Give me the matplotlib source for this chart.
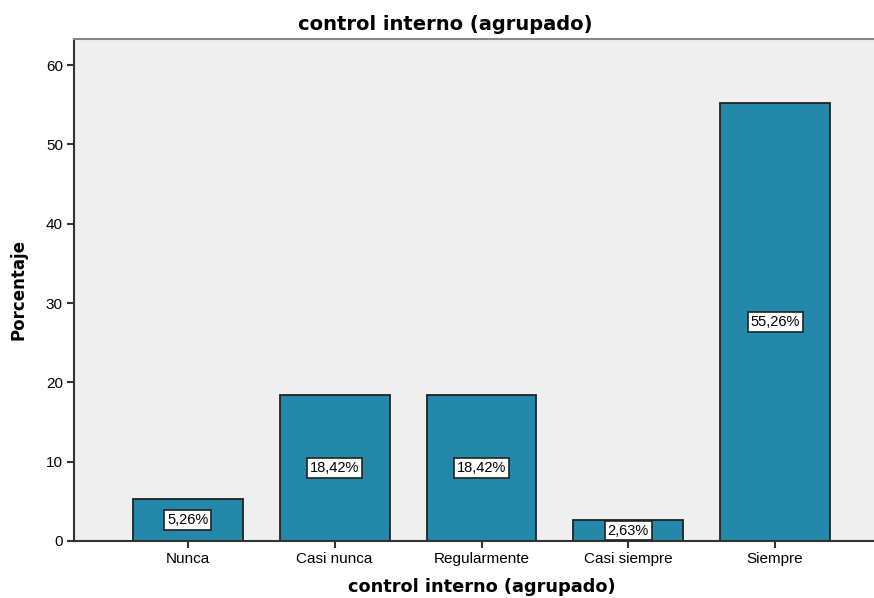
import matplotlib
matplotlib.use("Agg")
import matplotlib.pyplot as plt
import numpy as np

categories = ["Nunca", "Casi nunca", "Regularmente", "Casi siempre", "Siempre"]
values = [5.26, 18.42, 18.42, 2.63, 55.26]
labels = ["5,26%", "18,42%", "18,42%", "2,63%", "55,26%"]
yticks = [0, 10, 20, 30, 40, 50, 60]

fig = plt.figure(figsize=(8.74, 5.98), dpi=100)
W, H = 874, 598
ax = fig.add_axes([74 / W, (H - 541) / H, 815 / W, 502 / H])
ax.set_facecolor("#efefef")

x = np.arange(len(categories))
ax.bar(x, values, width=0.748, color="#2388AA", edgecolor="#222222", linewidth=1.3, zorder=2)
for xi, v, lab in zip(x, values, labels):
    ax.text(xi, v / 2, lab, ha="center", va="center", fontsize=10.5, family="Liberation Sans",
            color="black", zorder=3,
            bbox=dict(boxstyle="square,pad=0.2", facecolor="white", edgecolor="#222222", linewidth=1.2))

ax.set_xlim(-0.7755, 4.7755)
ax.set_ylim(0, 63.3)
ax.set_yticks(yticks)
ax.set_xticks(x)
ax.set_xticklabels(categories, fontsize=11, family="Liberation Sans")
ax.set_yticklabels([str(t) for t in yticks], fontsize=11, family="Liberation Sans")
ax.tick_params(axis="both", direction="out", length=5, width=1.5, color="#333333", pad=3)

for s in ["left", "bottom"]:
    ax.spines[s].set_color("#333333")
    ax.spines[s].set_linewidth(1.5)
ax.spines["top"].set_color("#888888")
ax.spines["top"].set_linewidth(1.5)
ax.spines["right"].set_visible(False)

ax.set_ylabel("Porcentaje", fontsize=12, fontweight="bold", family="DejaVu Sans")
ax.yaxis.set_label_coords(-0.057, 0.5)
fig.text(482 / W, 1 - 587 / H, "control interno (agrupado)", ha="center", va="center",
         fontsize=12.8, fontweight="bold", family="DejaVu Sans")
fig.text(445 / W, 1 - 24 / H, "control interno (agrupado)", ha="center", va="center",
         fontsize=14, fontweight="bold", family="DejaVu Sans")

fig.savefig("out.png", dpi=100)
